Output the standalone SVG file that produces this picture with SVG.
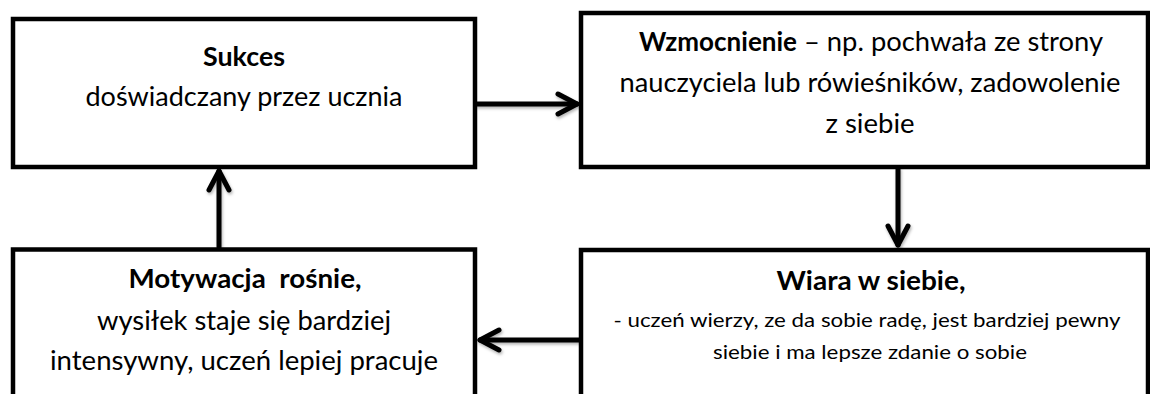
<svg xmlns="http://www.w3.org/2000/svg" width="1150" height="394" viewBox="0 0 1150 394">
  <style>
    .box { fill: #ffffff; stroke: #000000; stroke-width: 4.5; }
    .t { font-family: Lato, "Open Sans", "Liberation Sans", sans-serif; font-size: 26px; fill: #000000; }
    .b { font-weight: bold; }
    .s { font-size: 20px; }
    .c { text-anchor: middle; }
    .conn { fill: none; stroke: #000000; stroke-width: 5; stroke-linecap: round; }
  </style>
  <defs>
    <marker id="chev" markerUnits="userSpaceOnUse" viewBox="-24 -14 28 28" refX="0" refY="0" markerWidth="28" markerHeight="28" orient="auto">
      <path d="M-19,-10 L0,0 L-19,10" fill="none" stroke="#000000" stroke-width="5" stroke-linecap="round" stroke-linejoin="round"/>
    </marker>
    <filter id="sh" x="-20%" y="-20%" width="140%" height="140%">
      <feDropShadow dx="1" dy="2" stdDeviation="1.5" flood-color="#000000" flood-opacity="0.3"/>
    </filter>
  </defs>

  <g id="connectors" filter="url(#sh)">
    <line class="conn" x1="477" y1="104" x2="577" y2="104" marker-end="url(#chev)"/>
    <line class="conn" x1="898" y1="169" x2="898" y2="245" marker-end="url(#chev)"/>
    <line class="conn" x1="219" y1="247" x2="219" y2="171" marker-end="url(#chev)"/>
    <line class="conn" x1="579" y1="340" x2="480" y2="340" marker-end="url(#chev)"/>
  </g>

  <g id="node-sukces">
    <rect class="box" x="13" y="19" width="462" height="148"/>
    <text class="t b c" x="244" y="66" textLength="82" lengthAdjust="spacingAndGlyphs">Sukces</text>
    <text class="t c" x="244" y="106" textLength="317" lengthAdjust="spacingAndGlyphs">doświadczany przez ucznia</text>
  </g>

  <g id="node-wzmocnienie">
    <rect class="box" x="581" y="13" width="567" height="154"/>
    <text class="t b" x="639" y="51" textLength="158" lengthAdjust="spacingAndGlyphs">Wzmocnienie</text>
    <text class="t" x="804" y="51" textLength="299" lengthAdjust="spacingAndGlyphs">– np. pochwała ze strony</text>
    <text class="t c" x="870" y="92" textLength="501" lengthAdjust="spacingAndGlyphs">nauczyciela lub rówieśników, zadowolenie</text>
    <text class="t c" x="870" y="133" textLength="89" lengthAdjust="spacingAndGlyphs">z siebie</text>
  </g>

  <g id="node-motywacja">
    <rect class="box" x="13" y="249.5" width="462" height="170"/>
    <text class="t b c" x="245" y="288" textLength="233" lengthAdjust="spacingAndGlyphs" xml:space="preserve">Motywacja  rośnie,</text>
    <text class="t c" x="244" y="330" textLength="294" lengthAdjust="spacingAndGlyphs">wysiłek staje się bardziej</text>
    <text class="t c" x="244" y="370" textLength="388" lengthAdjust="spacingAndGlyphs">intensywny, uczeń lepiej pracuje</text>
  </g>

  <g id="node-wiara">
    <rect class="box" x="581" y="250" width="567" height="170"/>
    <text class="t b c" x="871" y="290" textLength="189" lengthAdjust="spacingAndGlyphs">Wiara w siebie,</text>
    <text class="t s c" x="867" y="327" textLength="507" lengthAdjust="spacingAndGlyphs">- uczeń wierzy, ze da sobie radę, jest bardziej pewny</text>
    <text class="t s c" x="870" y="359" textLength="314" lengthAdjust="spacingAndGlyphs">siebie i ma lepsze zdanie o sobie</text>
  </g>
</svg>
